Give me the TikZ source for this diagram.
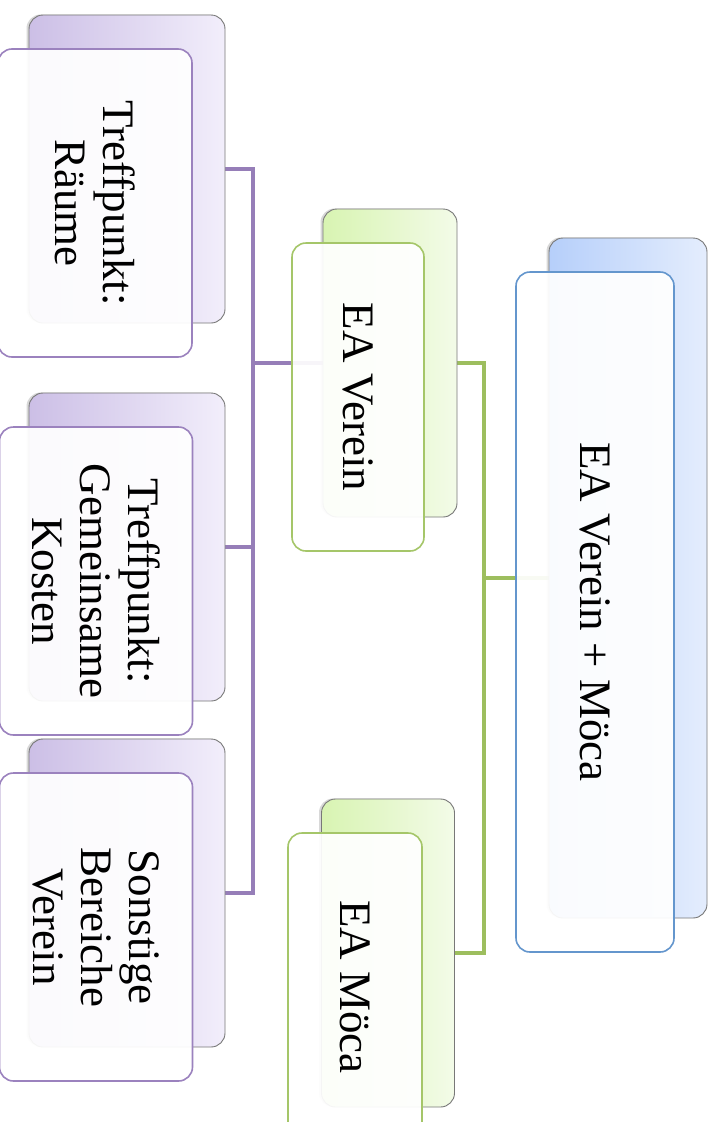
\documentclass[tikz,border=0pt]{standalone}
\usepackage{fontspec}
\setmainfont{Liberation Serif}
\usetikzlibrary{shadows}
\definecolor{purpL}{RGB}{204,191,230}
\definecolor{purpR}{RGB}{242,238,251}
\definecolor{purpB}{RGB}{155,130,190}
\definecolor{purpLine}{RGB}{150,126,184}
\definecolor{grnL}{RGB}{216,244,178}
\definecolor{grnR}{RGB}{243,251,232}
\definecolor{grnB}{RGB}{165,198,105}
\definecolor{grnLine}{RGB}{157,190,94}
\definecolor{bluL}{RGB}{182,207,250}
\definecolor{bluR}{RGB}{228,237,253}
\definecolor{bluB}{RGB}{100,150,205}
\definecolor{backBorder}{RGB}{120,120,120}
\pgfdeclarelayer{bg}
\pgfsetlayers{bg,main}
\begin{document}
\begin{tikzpicture}[x=1pt,y=-1pt,
  backbox/.style={draw=backBorder, line width=0.9pt, rounded corners=14pt, inner sep=0pt,
    drop shadow={shadow xshift=-2.5pt, shadow yshift=0.5pt, opacity=0.3}},
  purpback/.style={backbox, left color=purpL, right color=purpR},
  grnback/.style={backbox, left color=grnL, right color=grnR},
  bluback/.style={backbox, left color=bluL, right color=bluR},
  frontbox/.style={draw, line width=1.6pt, rounded corners=14pt, fill=white, fill opacity=0.93,
    text opacity=1, rotate=-90, align=center, inner sep=0pt,
    font=\fontsize{45}{48}\selectfont},
  purpfront/.style={frontbox, draw=purpB},
  grnfront/.style={frontbox, draw=grnB},
  blufront/.style={frontbox, draw=bluB},
  purpconn/.style={draw=purpLine, line width=4.5pt},
  grnconn/.style={draw=grnLine, line width=4.5pt}
]
\useasboundingbox (0,0) rectangle (716,1122);
\coordinate (pj) at (253,363);
\coordinate (gj) at (484,578);

% back boxes
\node[purpback, minimum width=196pt, minimum height=308pt] (ba) at (127,169) {};
\node[purpback, minimum width=196pt, minimum height=308pt] (bb) at (127,547) {};
\node[purpback, minimum width=196pt, minimum height=308pt] (bc) at (127,893) {};
\node[grnback, minimum width=134pt, minimum height=308pt] (bv) at (390,363) {};
\node[grnback, minimum width=133pt, minimum height=308pt] (bm) at (388,953) {};
\node[bluback, minimum width=158pt, minimum height=680pt] (bt) at (628,578) {};

% connectors
\begin{pgfonlayer}{bg}
\fill[white] (0,0) rectangle (716,1122);
\draw[purpconn] (ba.east) -| (pj);
\draw[purpconn] (bb.east) -| (pj);
\draw[purpconn] (bc.east) -| (pj);
\draw[purpconn] (pj) -- (bv.west);
\draw[grnconn] (bv.east) -| (gj);
\draw[grnconn] (bm.east) -| (gj);
\draw[grnconn] (gj) -- (bt.west);
\end{pgfonlayer}

% front boxes with text
\node[purpfront, minimum width=308pt, minimum height=194pt] (fa) at (95,203) {Treffpunkt:\\Räume};
\node[purpfront, minimum width=308pt, minimum height=193pt] (fb) at (96,581) {Treffpunkt:\\Gemeinsame\\Kosten};
\node[purpfront, minimum width=308pt, minimum height=193pt] (fc) at (96,927) {Sonstige\\Bereiche\\Verein};
\node[grnfront, minimum width=308pt, minimum height=132pt] (fv) at (358,397) {EA Verein};
\node[grnfront, minimum width=308pt, minimum height=134pt] (fm) at (355,987) {EA Möca};
\node[blufront, minimum width=680pt, minimum height=158pt] (ft) at (595,612) {EA Verein + Möca};
\end{tikzpicture}
\end{document}
